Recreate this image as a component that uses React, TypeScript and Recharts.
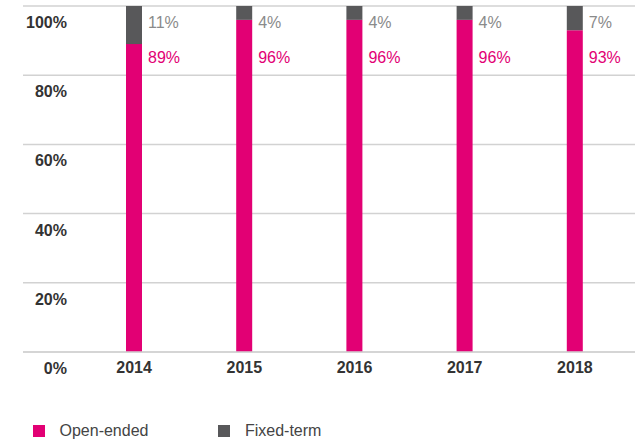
import { BarChart, Bar, XAxis, YAxis, CartesianGrid, Legend, LabelList } from "recharts";

const years = ["2014", "2015", "2016", "2017", "2018"];
const openEnded = [89, 96, 96, 96, 93];
const fixedTerm = [11, 4, 4, 4, 7];
const yTicks = [0, 20, 40, 60, 80, 100];
const seriesOrder = ["openEnded", "fixedTerm"];

const MAGENTA = "#E20074";
const DARK = "#58585A";
const GRID = "#d2d2d2";
const FONT = "'Liberation Sans', Arial, sans-serif";

const data = years.map((year, i) => ({
  year,
  openEnded: openEnded[i],
  fixedTerm: fixedTerm[i],
}));

const YTick = ({ y, payload }: any) => (
  <text
    x={67}
    y={y + 16.5}
    textAnchor="end"
    dominantBaseline="central"
    fontFamily={FONT}
    fontWeight="bold"
    fontSize={16}
    fill="#333"
  >
    {payload.value}%
  </text>
);

const XTick = ({ x, y, payload }: any) => (
  <text
    x={x}
    y={y + 15}
    textAnchor="middle"
    dominantBaseline="central"
    fontFamily={FONT}
    fontWeight="bold"
    fontSize={16}
    fill="#333"
  >
    {payload.value}
  </text>
);

// both value labels sit beside the top of each stack
const ValueLabels = (props: any) => {
  const { x, y, width, index } = props;
  const left = x + width + 6;
  return (
    <g fontFamily={FONT} fontSize={16}>
      <text x={left} y={y + 16.5} dominantBaseline="central" fill="#8A8A8A">
        {fixedTerm[index]}%
      </text>
      <text x={left} y={y + 51} dominantBaseline="central" fill={MAGENTA}>
        {openEnded[index]}%
      </text>
    </g>
  );
};

const LegendContent = ({ payload }: any) => {
  const items = [...(payload || [])].sort(
    (a: any, b: any) => seriesOrder.indexOf(a.dataKey) - seriesOrder.indexOf(b.dataKey)
  );
  return (
    <div style={{ display: "flex", alignItems: "center", height: 20, paddingLeft: 10, fontFamily: FONT }}>
      {items.map((entry: any, i: number) => (
        <div key={i} style={{ display: "flex", alignItems: "center", marginRight: 70 }}>
          <div style={{ width: 11.5, height: 11.5, background: entry.color, marginRight: 15 }} />
          <span style={{ fontSize: 16, lineHeight: "20px", color: "#444" }}>{entry.value}</span>
        </div>
      ))}
    </div>
  );
};

export default function App() {
  return (
    <div style={{ width: 640, height: 443, background: "#fff" }}>
      <style>{`body{margin:0}`}</style>
      <BarChart
        width={640}
        height={443}
        data={data}
        margin={{ top: 6, right: 5, bottom: 0, left: 23 }}
      >
        <CartesianGrid horizontal vertical={false} stroke={GRID} strokeWidth={1.5} />
        <XAxis
          dataKey="year"
          height={71}
          padding={{ left: 56, right: 5 }}
          tickLine={false}
          tickSize={0}
          tickMargin={0}
          axisLine={{ stroke: GRID, strokeWidth: 1.5 }}
          tick={<XTick />}
        />
        <YAxis
          width={44}
          mirror
          domain={[0, 100]}
          ticks={yTicks}
          interval={0}
          axisLine={false}
          tickLine={false}
          tickSize={0}
          tick={<YTick />}
        />
        <Legend
          verticalAlign="bottom"
          wrapperStyle={{ bottom: 2, height: 20 }}
          content={<LegendContent />}
        />
        <Bar dataKey="openEnded" name="Open-ended" stackId="a" fill={MAGENTA} barSize={16} isAnimationActive={false} />
        <Bar dataKey="fixedTerm" name="Fixed-term" stackId="a" fill={DARK} barSize={16} isAnimationActive={false}>
          <LabelList dataKey="fixedTerm" content={<ValueLabels />} />
        </Bar>
      </BarChart>
    </div>
  );
}
